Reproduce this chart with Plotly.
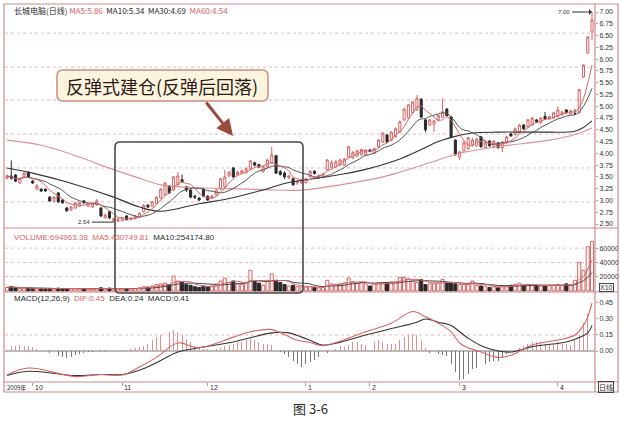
import plotly.graph_objects as go
import pandas as pd

W, H = 620, 426

# ---------------- data ----------------
opens = [3.47, 3.52, 3.54, 3.37, 3.50, 3.60, 3.41, 3.24, 3.24, 3.24,
         3.07, 2.98, 3.16, 3.01, 2.84, 2.80, 2.84, 2.88, 2.99, 2.88,
         2.86, 2.91, 2.84, 2.63, 2.76, 2.57, 2.56, 2.57, 2.67, 2.59,
         2.61, 2.65, 2.76, 2.90, 2.88, 2.93, 3.05, 3.12, 3.31, 3.22,
         3.33, 3.44, 3.29, 3.22, 3.09, 3.05, 3.24, 3.09, 3.05, 3.12,
         3.24, 3.29, 3.52, 3.69, 3.54, 3.58, 3.59, 3.67, 3.80, 3.76,
         3.61, 3.71, 3.80, 3.95, 3.61, 3.58, 3.48, 3.46, 3.37, 3.37,
         3.38, 3.50, 3.62, 3.48, 3.50, 3.65, 3.70, 3.72, 3.75, 3.75,
         3.92, 3.90, 3.94, 3.97, 3.96, 4.07, 4.00, 4.14, 4.24, 4.39,
         4.28, 4.35, 4.45, 4.71, 4.75, 4.86, 4.92, 5.15, 4.71, 4.60,
         4.62, 4.71, 4.77, 4.94, 4.77, 4.28, 3.92, 4.05, 4.10, 4.18,
         4.16, 4.35, 4.12, 4.26, 4.14, 4.22, 4.12, 4.22, 4.41, 4.40,
         4.45, 4.60, 4.56, 4.60, 4.71, 4.65, 4.78, 4.73, 4.75, 4.78,
         4.82, 4.92, 4.84, 4.84, 4.86, 5.62, 6.13, 6.58]
highs = [3.55, 3.85, 3.56, 3.48, 3.60, 3.62, 3.44, 3.35, 3.26, 3.25,
         3.09, 3.09, 3.18, 3.02, 2.86, 2.88, 2.97, 2.97, 3.01, 2.96,
         2.95, 3.03, 2.86, 2.72, 2.78, 2.63, 2.63, 2.65, 2.69, 2.65,
         2.69, 2.75, 2.92, 2.92, 2.99, 3.09, 3.26, 3.39, 3.33, 3.52,
         3.60, 3.55, 3.31, 3.24, 3.12, 3.07, 3.27, 3.11, 3.12, 3.24,
         3.48, 3.65, 3.62, 3.71, 3.63, 3.65, 3.70, 3.86, 3.82, 3.78,
         3.73, 3.88, 4.14, 3.97, 3.65, 3.62, 3.55, 3.48, 3.43, 3.45,
         3.48, 3.64, 3.64, 3.55, 3.58, 3.88, 3.85, 3.86, 3.88, 3.90,
         4.16, 4.05, 4.08, 4.10, 4.08, 4.09, 4.12, 4.30, 4.45, 4.41,
         4.47, 4.55, 4.70, 4.96, 5.05, 5.11, 5.24, 5.17, 4.73, 4.73,
         4.71, 4.82, 5.16, 4.96, 4.79, 4.30, 4.05, 4.26, 4.35, 4.33,
         4.33, 4.37, 4.25, 4.28, 4.28, 4.24, 4.26, 4.37, 4.43, 4.55,
         4.62, 4.62, 4.73, 4.77, 4.73, 4.77, 4.88, 4.80, 4.88, 5.00,
         4.90, 4.94, 4.92, 4.94, 5.37, 5.89, 6.49, 7.00]
lows = [3.45, 3.44, 3.39, 3.35, 3.48, 3.48, 3.35, 3.22, 3.18, 3.19,
        2.97, 2.96, 2.95, 2.93, 2.76, 2.78, 2.82, 2.86, 2.93, 2.86,
        2.84, 2.89, 2.65, 2.61, 2.60, 2.54, 2.55, 2.56, 2.58, 2.58,
        2.60, 2.63, 2.74, 2.84, 2.86, 2.91, 3.03, 3.10, 3.14, 3.20,
        3.31, 3.38, 3.18, 3.05, 3.03, 2.99, 3.07, 2.99, 3.03, 3.10,
        3.22, 3.27, 3.50, 3.48, 3.52, 3.56, 3.57, 3.65, 3.72, 3.69,
        3.59, 3.69, 3.78, 3.56, 3.53, 3.45, 3.46, 3.31, 3.33, 3.35,
        3.36, 3.48, 3.55, 3.46, 3.48, 3.63, 3.68, 3.70, 3.73, 3.73,
        3.90, 3.88, 3.92, 3.95, 3.94, 4.02, 3.98, 4.12, 4.22, 4.22,
        4.26, 4.33, 4.43, 4.69, 4.73, 4.84, 4.90, 4.75, 4.45, 4.58,
        4.45, 4.69, 4.75, 4.78, 4.33, 3.95, 3.86, 4.03, 4.08, 4.14,
        4.14, 4.12, 4.10, 4.14, 4.12, 4.10, 4.02, 4.20, 4.35, 4.38,
        4.43, 4.50, 4.54, 4.58, 4.65, 4.63, 4.71, 4.71, 4.73, 4.76,
        4.80, 4.84, 4.82, 4.82, 4.84, 5.60, 6.11, 6.40]
closes = [3.52, 3.47, 3.41, 3.46, 3.58, 3.50, 3.37, 3.31, 3.20, 3.20,
          2.99, 3.07, 2.97, 2.95, 2.78, 2.86, 2.95, 2.95, 2.95, 2.94,
          2.93, 2.99, 2.67, 2.69, 2.63, 2.61, 2.60, 2.63, 2.59, 2.63,
          2.67, 2.73, 2.90, 2.86, 2.97, 3.07, 3.24, 3.37, 3.16, 3.50,
          3.52, 3.40, 3.22, 3.07, 3.07, 3.01, 3.09, 3.01, 3.09, 3.22,
          3.46, 3.50, 3.60, 3.50, 3.60, 3.63, 3.67, 3.84, 3.75, 3.71,
          3.71, 3.86, 3.97, 3.58, 3.55, 3.50, 3.52, 3.33, 3.41, 3.42,
          3.46, 3.62, 3.57, 3.53, 3.56, 3.86, 3.80, 3.82, 3.86, 3.88,
          4.14, 4.02, 4.05, 4.08, 4.05, 4.04, 4.10, 4.28, 4.43, 4.24,
          4.45, 4.52, 4.67, 4.94, 5.03, 5.09, 5.17, 4.77, 4.50, 4.71,
          4.69, 4.80, 4.88, 4.80, 4.35, 3.97, 4.03, 4.22, 4.33, 4.28,
          4.30, 4.14, 4.22, 4.16, 4.26, 4.12, 4.24, 4.35, 4.37, 4.52,
          4.60, 4.52, 4.71, 4.75, 4.67, 4.75, 4.73, 4.78, 4.86, 4.92,
          4.88, 4.86, 4.90, 4.84, 5.35, 5.87, 6.47, 6.83]
# volume in units of x10 shares
volumes = [5000, 6000, 4500, 3500, 4000, 4000, 3500, 3000, 3500, 3000,
           3500, 3000, 4000, 3500, 3500, 3000, 3500, 3000, 3000, 3000,
           2800, 3500, 4500, 3000, 4000, 3000, 2800, 3000, 3500, 3200,
           3500, 4500, 6000, 5500, 7000, 9000, 10000, 11000, 9000, 21000,
           14000, 12500, 9000, 8000, 6000, 5000, 7000, 6000, 7000, 10000,
           14000, 18000, 12000, 14000, 10000, 9000, 12000, 29000, 13000, 11000,
           8000, 14000, 24000, 15000, 12000, 9000, 7000, 8000, 6000, 6000,
           5500, 6000, 5000, 4500, 5000, 15000, 10000, 9000, 10000, 11000,
           18000, 13000, 11000, 12000, 10000, 7000, 10000, 11000, 12000, 12000,
           13000, 13000, 19000, 19000, 17000, 14000, 12000, 16000, 9000, 10000,
           10000, 11000, 16000, 12000, 11000, 10000, 9000, 9000, 9000, 14000,
           8000, 7000, 7000, 5000, 6000, 4500, 7000, 7000, 8000, 9000,
           11000, 8000, 9000, 8000, 8000, 7000, 7000, 8000, 8000, 9000,
           8000, 10000, 8000, 15000, 40000, 29000, 62000, 69496]
macd_hist = [0.04, 0.05, 0.05, 0.06, 0.05, 0.05, 0.04, 0.02, 0.01, 0.0,
             -0.02, -0.03, -0.05, -0.06, -0.07, -0.06, -0.04, -0.03, -0.02, -0.01,
             -0.01, 0.0, -0.01, -0.01, 0.0, 0.0, 0.0, 0.01, 0.01, 0.02,
             0.03, 0.04, 0.05, 0.07, 0.10, 0.13, 0.15, 0.16, 0.18, 0.20,
             0.18, 0.15, 0.11, 0.08, 0.05, 0.03, 0.02, 0.02, 0.01, 0.02,
             0.03, 0.05, 0.06, 0.07, 0.08, 0.08, 0.10, 0.11, 0.10, 0.08,
             0.07, 0.07, 0.06, 0.02, -0.01, -0.03, -0.06, -0.09, -0.12, -0.15,
             -0.12, -0.10, -0.08, -0.06, -0.04, -0.02, 0.0, 0.02, 0.05, 0.04,
             0.06, 0.08, 0.08, 0.07, 0.06, 0.07, 0.08, 0.10, 0.08, 0.07,
             0.07, 0.07, 0.10, 0.13, 0.15, 0.16, 0.15, 0.10, 0.03, -0.02,
             -0.04, -0.03, -0.04, -0.05, -0.12, -0.20, -0.27, -0.26, -0.22, -0.17,
             -0.16, -0.14, -0.125, -0.10, -0.09, -0.09, -0.07, -0.03, 0.0, 0.01,
             0.03, 0.05, 0.07, 0.08, 0.08, 0.08, 0.07, 0.07, 0.07, 0.08,
             0.07, 0.07, 0.06, 0.10, 0.15, 0.26, 0.35, 0.41]

ma30_idx = [0, 6, 14, 25, 31, 36, 45, 52, 59, 66, 71, 78, 84, 92, 97, 101, 105, 109, 115, 125, 133, 135, 137]
ma30_vals = [3.69, 3.58, 3.39, 3.07, 2.86, 2.77, 2.93, 3.04, 3.20, 3.38, 3.45, 3.55, 3.66, 3.88, 4.08, 4.25, 4.36, 4.43, 4.45, 4.45, 4.47, 4.55, 4.69]
ma60_idx = [0, 8, 17, 22, 30, 36, 45, 52, 60, 69, 78, 88, 92, 99, 106, 115, 127, 133, 137]
ma60_vals = [4.28, 4.17, 3.92, 3.75, 3.50, 3.33, 3.27, 3.25, 3.23, 3.22, 3.33, 3.50, 3.60, 3.80, 4.00, 4.14, 4.28, 4.40, 4.54]

dif_idx = [0, 5, 16, 22, 27, 31, 35, 40, 45, 53, 57, 62, 68, 71, 74, 84, 90, 95, 98, 101, 104, 106, 108, 111, 115, 118, 123, 131, 133, 135, 136, 137]
dif_vals = [-0.225, -0.16, -0.24, -0.22, -0.225, -0.15, -0.06, 0.075, 0.03, 0.13, 0.18, 0.20, 0.10, 0.08, 0.05, 0.18, 0.26, 0.37, 0.32, 0.26, 0.18, 0.075, 0.03, -0.01, -0.06, -0.04, 0.056, 0.12, 0.15, 0.24, 0.32, 0.45]
dea_idx = [0, 5, 16, 22, 27, 31, 35, 40, 45, 53, 62, 66, 69, 71, 74, 84, 90, 96, 98, 101, 104, 106, 108, 111, 115, 118, 123, 131, 133, 136, 137]
dea_vals = [-0.23, -0.19, -0.23, -0.22, -0.22, -0.18, -0.11, -0.01, 0.03, 0.085, 0.17, 0.17, 0.13, 0.10, 0.056, 0.15, 0.21, 0.27, 0.30, 0.27, 0.24, 0.18, 0.12, 0.05, 0.0, -0.01, 0.04, 0.085, 0.11, 0.17, 0.24]

price_ticks = [2.50, 2.75, 3.00, 3.25, 3.50, 3.75, 4.00, 4.25, 4.50, 4.75,
               5.00, 5.25, 5.50, 5.75, 6.00, 6.25, 6.50, 6.75, 7.00]
price_grid = [2.97, 3.69, 4.41, 5.13, 5.83, 6.55]
vol_ticks = [20000, 40000, 60000]
macd_ticks = [0.00, 0.15, 0.30, 0.45]
month_start_idx = [6, 27, 47, 70, 85, 106, 129]
month_labels = ["10", "11", "12", "1", "2", "3", "4"]

# ---------------- styling ----------------
RED = "#d86464"
PINK = "#e09090"
DARK = "#2a2a2a"
FRAME = "#cf8a8a"
FONT = "Liberation Sans, Arial, sans-serif"
CJK = "Noto Sans CJK SC"

n = len(closes)
idx = list(range(n))
up = [c >= o for o, c in zip(opens, closes)]
s_close = pd.Series(closes)
ma5 = s_close.rolling(5, min_periods=1).mean()
ma10 = s_close.rolling(10, min_periods=1).mean()
s_vol = pd.Series(volumes)
vma5 = s_vol.rolling(5, min_periods=1).mean()
vma10 = s_vol.rolling(10, min_periods=1).mean()

def px(x):
    return x / W

def py(y):
    return 1 - y / H

fig = go.Figure()

# price panel
fig.add_trace(go.Candlestick(
    x=idx, open=opens, high=highs, low=lows, close=closes,
    increasing=dict(line=dict(color=RED, width=1), fillcolor="white"),
    decreasing=dict(line=dict(color=DARK, width=1), fillcolor=DARK),
    whiskerwidth=0, xaxis="x", yaxis="y", hoverinfo="skip"))
fig.add_trace(go.Scatter(x=ma60_idx, y=ma60_vals, mode="lines", line=dict(color=PINK, width=1.1, shape="spline"), xaxis="x", yaxis="y"))
fig.add_trace(go.Scatter(x=ma30_idx, y=ma30_vals, mode="lines", line=dict(color="#333", width=1.1, shape="spline"), xaxis="x", yaxis="y"))
fig.add_trace(go.Scatter(x=idx, y=ma10, mode="lines", line=dict(color="#555", width=1, shape="spline"), xaxis="x", yaxis="y"))
fig.add_trace(go.Scatter(x=idx, y=ma5, mode="lines", line=dict(color=RED, width=1, shape="spline"), xaxis="x", yaxis="y"))

# volume panel
fig.add_trace(go.Bar(
    x=idx, y=volumes, width=0.72,
    marker=dict(color=["white" if u else DARK for u in up],
                line=dict(color=[RED if u else DARK for u in up], width=1)),
    xaxis="x2", yaxis="y2", hoverinfo="skip"))
fig.add_trace(go.Scatter(x=idx, y=vma10, mode="lines", line=dict(color="#444", width=1, shape="spline"), xaxis="x2", yaxis="y2"))
fig.add_trace(go.Scatter(x=idx, y=vma5, mode="lines", line=dict(color=RED, width=1, shape="spline"), xaxis="x2", yaxis="y2"))

# MACD panel
fig.add_trace(go.Bar(
    x=idx, y=macd_hist, width=0.22,
    marker=dict(color=[PINK if v >= 0 else "#777" for v in macd_hist], line=dict(width=0)),
    xaxis="x3", yaxis="y3", hoverinfo="skip"))
fig.add_trace(go.Scatter(x=dea_idx, y=dea_vals, mode="lines", line=dict(color="#333", width=1.1, shape="spline"), xaxis="x3", yaxis="y3"))
fig.add_trace(go.Scatter(x=dif_idx, y=dif_vals, mode="lines", line=dict(color=RED, width=1.1, shape="spline"), xaxis="x3", yaxis="y3"))

xdom = [px(5), px(595)]
xrange = [-0.47, 137.7]
common_x = dict(domain=xdom, range=xrange, showgrid=False, zeroline=False, showticklabels=False, fixedrange=True)
tickfont = dict(family=FONT, size=7, color="#333")

fig.update_layout(
    width=W, height=H, margin=dict(l=0, r=0, t=0, b=0),
    paper_bgcolor="white", plot_bgcolor="white", showlegend=False, bargap=0, hovermode=False,
    xaxis=dict(**common_x, anchor="y", rangeslider=dict(visible=False)),
    xaxis2=dict(**common_x, anchor="y2", matches="x"),
    xaxis3=dict(**common_x, anchor="y3", matches="x", tickmode="array", tickvals=month_start_idx,
                ticks="outside", ticklen=3, tickcolor=FRAME),
    yaxis=dict(domain=[py(228), py(8)], range=[2.415, 7.085], side="right", anchor="x",
               tickmode="array", tickvals=price_ticks, ticktext=["%.2f" % v for v in price_ticks],
               tickfont=tickfont, ticks="outside", ticklen=2, tickcolor=FRAME,
               showgrid=False, zeroline=False, fixedrange=True, automargin=False),
    yaxis2=dict(domain=[py(292), py(228)], range=[-1400, 88200], side="right", anchor="x2",
                tickmode="array", tickvals=vol_ticks, ticktext=[str(v) for v in vol_ticks],
                tickfont=tickfont, ticks="outside", ticklen=2, tickcolor=FRAME,
                showgrid=False, zeroline=False, fixedrange=True, automargin=False),
    yaxis3=dict(domain=[py(382), py(292)], range=[-0.2906, 0.553], side="right", anchor="x3",
                tickmode="array", tickvals=macd_ticks, ticktext=["%.2f" % v for v in macd_ticks],
                tickfont=tickfont, ticks="outside", ticklen=2, tickcolor=FRAME,
                showgrid=False, zeroline=False, fixedrange=True, automargin=False),
)

shapes = []
# dotted grid lines
for g in price_grid:
    shapes.append(dict(type="line", xref="paper", yref="y", x0=xdom[0], x1=xdom[1], y0=g, y1=g,
                       line=dict(color="#e6b8b8", width=1, dash="dot"), layer="below"))
for g in vol_ticks:
    shapes.append(dict(type="line", xref="paper", yref="y2", x0=xdom[0], x1=xdom[1], y0=g, y1=g,
                       line=dict(color="#e6b8b8", width=1, dash="dot"), layer="below"))
shapes.append(dict(type="line", xref="paper", yref="y3", x0=xdom[0], x1=xdom[1], y0=0.15, y1=0.15,
                   line=dict(color="#e6b8b8", width=1, dash="dot"), layer="below"))
shapes.append(dict(type="line", xref="paper", yref="y3", x0=xdom[0], x1=xdom[1], y0=0, y1=0,
                   line=dict(color="#555", width=0.8), layer="below"))
# frame and panel separators
shapes.append(dict(type="rect", xref="paper", yref="paper", x0=px(4), x1=px(618), y0=py(392), y1=py(4),
                   line=dict(color=FRAME, width=1.2)))
for yy in [228, 292, 382]:
    shapes.append(dict(type="line", xref="paper", yref="paper", x0=px(4), x1=px(618), y0=py(yy), y1=py(yy),
                       line=dict(color=FRAME, width=1.2)))
shapes.append(dict(type="line", xref="paper", yref="paper", x0=px(595), x1=px(595), y0=py(392), y1=py(4),
                   line=dict(color=FRAME, width=1.2)))

def rounded(x0, y0, x1, y1, r):
    X0, X1 = px(x0), px(x1)
    Y0, Y1 = py(y0), py(y1)
    rx, ry = r / W, r / H
    return (f"M {X0+rx},{Y0} L {X1-rx},{Y0} Q {X1},{Y0} {X1},{Y0-ry} L {X1},{Y1+ry} "
            f"Q {X1},{Y1} {X1-rx},{Y1} L {X0+rx},{Y1} Q {X0},{Y1} {X0},{Y1+ry} "
            f"L {X0},{Y0-ry} Q {X0},{Y0} {X0+rx},{Y0} Z")

# highlighted region box
shapes.append(dict(type="path", xref="paper", yref="paper", path=rounded(115, 142, 303, 293, 5),
                   line=dict(color="#4a4a4a", width=1.6)))
# callout box
shapes.append(dict(type="path", xref="paper", yref="paper", path=rounded(57, 70, 268, 101, 6),
                   line=dict(color="#c98d80", width=1.5), fillcolor="#fcf4df"))
fig.update_layout(shapes=shapes)

ann = []
def text(x, y, t, size=8, color=DARK, family=FONT, xanchor="left", **kw):
    ann.append(dict(xref="paper", yref="paper", x=px(x), y=py(y), text=t, showarrow=False,
                    xanchor=xanchor, yanchor="middle", font=dict(size=size, color=color, family=family), **kw))

sp = lambda c, t: f"<span style='color:{c}'>{t}</span>"
text(12, 10, "长城电脑(日线) " + sp(RED, "MA5:5.86") + "  MA10:5.34  MA30:4.69  " + sp(RED, "MA60:4.54"),
     size=8, family=CJK)
text(12, 237, sp(RED, "VOLUME:694963.38") + "  " + sp(RED, "MA5:430749.81") + "  MA10:254174.80", size=8)
text(12, 298, "MACD(12,26,9)  " + sp(RED, "DIF:0.45") + "  DEA:0.24  MACD:0.41", size=8)
text(162, 86, "反弹式建仓(反弹后回落)", size=18, color="#2b1a12", family=CJK, xanchor="center")
text(5, 387, "2009年", size=6, family=CJK)
for i_m, lab in zip(month_start_idx, month_labels):
    ann.append(dict(xref="x3", yref="paper", x=i_m, y=py(387), text=lab, showarrow=False,
                    xanchor="left", yanchor="middle", font=dict(size=7, color=DARK, family=FONT)))
text(606, 287, "X10", size=7, xanchor="center", bordercolor="#444", borderwidth=1, borderpad=0)
text(606, 387, "日线", size=7, family=CJK, xanchor="center", bordercolor="#444", borderwidth=1, borderpad=0)
text(310, 408, "图 3-6", size=13, family=CJK, xanchor="center")

# callout arrow
ann.append(dict(xref="paper", yref="paper", x=px(233), y=py(136), ax=-28, ay=-35, text="",
                showarrow=True, arrowhead=2, arrowsize=1.1, arrowwidth=3, arrowcolor="#9a4b3c"))
# low and high marks
i_low = lows.index(min(lows))
ann.append(dict(xref="x", yref="y", x=i_low, y=lows[i_low], ax=-22, ay=0, text="%.2f" % min(lows),
                showarrow=True, arrowhead=0, arrowwidth=1, arrowcolor="#333",
                font=dict(size=6, color="#333", family=FONT), xanchor="right"))
i_high = highs.index(max(highs))
ann.append(dict(xref="x", yref="y", x=i_high, y=highs[i_high], ax=-20, ay=0, text="%.2f" % max(highs),
                showarrow=True, arrowhead=1, arrowwidth=1, arrowcolor="#333",
                font=dict(size=6, color="#333", family=FONT), xanchor="right"))
fig.update_layout(annotations=ann)

fig.write_html("out.html", config={"displayModeBar": False, "staticPlot": True},
               post_script="document.body.style.margin='0px';document.body.style.padding='0px';")
